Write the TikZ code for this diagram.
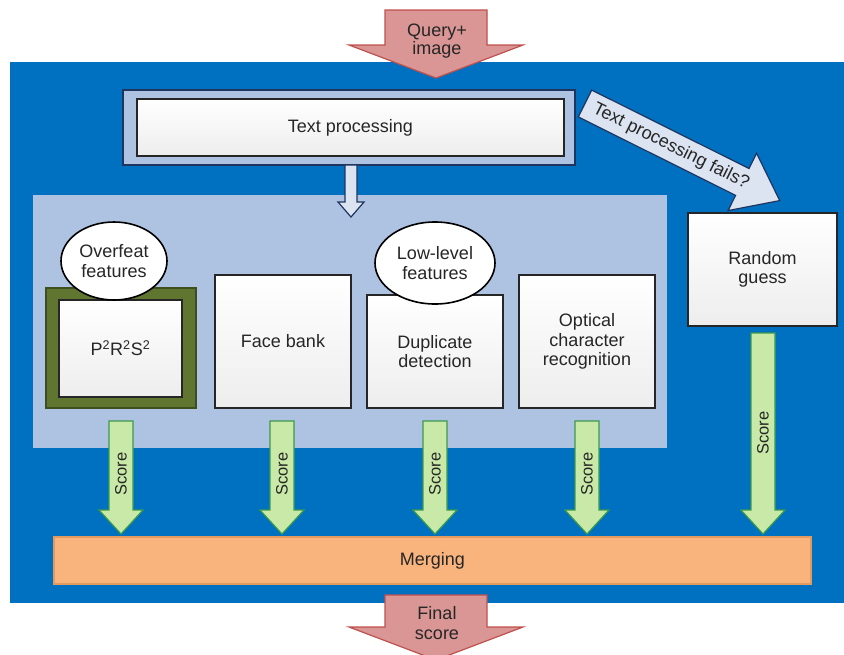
\documentclass[tikz,border=0pt]{standalone}
\usepackage{fontspec}
\setmainfont{Liberation Sans}
\usetikzlibrary{shapes.geometric}
\definecolor{bgblue}{HTML}{0070C0}
\definecolor{panel}{HTML}{AEC2E2}
\definecolor{navy}{HTML}{1F3560}
\definecolor{pale}{HTML}{DCE4F2}
\definecolor{olive}{HTML}{5F7530}
\definecolor{olivedark}{HTML}{3E4E1E}
\definecolor{scorefill}{HTML}{C8E9A8}
\definecolor{scoreline}{HTML}{3C9A4B}
\definecolor{mergefill}{HTML}{F9B47E}
\definecolor{mergeline}{HTML}{E39A5E}
\definecolor{redfill}{HTML}{D99694}
\definecolor{redline}{HTML}{C0504D}
\definecolor{txt}{HTML}{262626}
\newcommand{\dnarrow}[7]{%
  \draw[#1] ({#2-#6},#3) -- ({#2+#6},#3) -- ({#2+#6},#4) -- ({#2+#7},#4) -- (#2,#5) -- ({#2-#7},#4) -- ({#2-#6},#4) -- cycle;}
\begin{document}
\begin{tikzpicture}[x=1pt,y=-1pt,
  font=\fontsize{18}{19.5}\selectfont, text=txt,
  whitebox/.style={draw=black!85, line width=1.6pt, top color=white, bottom color=black!7,
     inner sep=0pt, align=center},
  bubble/.style={ellipse, draw=black, line width=1.6pt, fill=white, inner sep=0pt, align=center},
  scorearrow/.style={fill=scorefill, draw=scoreline, line width=1.2pt},
  redarrow/.style={fill=redfill, draw=redline, line width=1.2pt},
  palearrow/.style={fill=pale, draw=navy, line width=1.2pt},
  scoretext/.style={rotate=90, font=\fontsize{16.5}{18}\selectfont, inner sep=0pt}]
\useasboundingbox (0,0) rectangle (844,654);
\clip (0,0) rectangle (844,654);
% backgrounds
\fill[bgblue] (10,62) rectangle (844,603);
\fill[panel] (33,195) rectangle (667,448);
% text processing
\draw[fill=panel, draw=navy, line width=1.5pt] (123,90) rectangle (575,165);
\node[whitebox, minimum width=427pt, minimum height=57pt] (tp) at (350.5,127.5) {Text processing};
\dnarrow{palearrow}{351}{165}{202}{217}{6}{13}
% diagonal arrow
\begin{scope}[shift={(585,103.5)}, rotate=-26.5]
  \draw[palearrow] (0,-15) -- (175.8,-15) -- (175.8,-32) -- (217.6,0) -- (175.8,32) -- (175.8,15) -- (0,15) -- cycle;
  \node[transform shape, inner sep=0pt] (fails) at (96,0) {Text processing fails?};
\end{scope}
% modules
\draw[fill=olive, draw=olivedark, line width=1.2pt] (46,288) rectangle (196,408);
\node[whitebox, minimum width=123pt, minimum height=97pt] (prs) at (120.5,348.5)
  {P\textsuperscript{2}R\textsuperscript{2}S\textsuperscript{2}};
\node[whitebox, minimum width=136pt, minimum height=133pt] (face) at (283,341.5) {Face bank};
\node[whitebox, minimum width=136pt, minimum height=113pt] (dup) at (435,351.5) {Duplicate\\detection};
\node[whitebox, minimum width=136pt, minimum height=133pt] (ocr) at (587,341.5) {Optical\\character\\recognition};
\node[whitebox, minimum width=149pt, minimum height=113pt] (rand) at (762.5,269.5) {Random\\guess};
\node[bubble, minimum width=106pt, minimum height=78pt] (over) at (114,261) {Overfeat\\features};
\node[bubble, minimum width=120pt, minimum height=82pt] (low) at (435,263) {Low-level\\features};
% score arrows
\dnarrow{scorearrow}{121}{421}{510}{534}{12}{22}
\dnarrow{scorearrow}{282}{421}{510}{534}{12}{22}
\dnarrow{scorearrow}{435}{421}{510}{534}{12}{22}
\dnarrow{scorearrow}{587}{421}{510}{534}{12}{22}
\dnarrow{scorearrow}{763}{333}{510}{534}{12}{22}
\node[scoretext] (s1) at (121,474) {Score};
\node[scoretext] (s2) at (282,474) {Score};
\node[scoretext] (s3) at (435,474) {Score};
\node[scoretext] (s4) at (587,474) {Score};
\node[scoretext] (s5) at (763,433) {Score};
% merging
\node[fill=mergefill, draw=mergeline, line width=1.2pt, minimum width=757pt, minimum height=47pt, inner sep=0pt] (merge) at (432.5,560.5) {Merging};
% input / output arrows
\dnarrow{redarrow}{436}{10}{45}{78}{51}{87}
\node[align=center, inner sep=0pt, font=\fontsize{18}{18}\selectfont] (query) at (437,41.5) {Query+\\image};
\dnarrow{redarrow}{436}{595}{627}{660}{51}{87}
\node[align=center, inner sep=0pt, font=\fontsize{18}{20}\selectfont] (final) at (437,623) {Final\\score};
\end{tikzpicture}
\end{document}
